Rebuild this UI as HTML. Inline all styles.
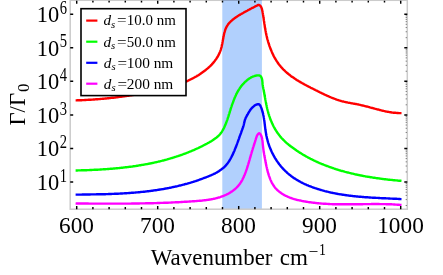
<!DOCTYPE html>
<html><head><meta charset="utf-8"><title>plot</title>
<style>
html,body{margin:0;padding:0;background:#fff;}
body{width:443px;height:275px;overflow:hidden;position:relative;font-family:"Liberation Serif",serif;}
</style></head><body>
<svg width="443" height="275" viewBox="0 0 443 275" style="position:absolute;left:0;top:0;will-change:transform">
<rect x="0" y="0" width="443" height="275" fill="#fff"/>
<rect x="222.3" y="0.3" width="39.6" height="208.9" fill="#b1d0fd"/>
<g fill="none" stroke-width="2.4" stroke-linecap="butt" stroke-linejoin="round">
<path d="M75.6,100.4 L76.5,100.4 L77.3,100.3 L78.2,100.3 L79.0,100.3 L79.9,100.3 L80.7,100.2 L81.6,100.2 L82.4,100.1 L83.3,100.1 L84.1,100.1 L85.0,100.0 L85.8,100.0 L86.7,99.9 L87.5,99.9 L88.4,99.8 L89.2,99.8 L90.1,99.7 L90.9,99.7 L91.8,99.6 L92.6,99.6 L93.4,99.5 L94.3,99.5 L95.1,99.4 L96.0,99.3 L96.8,99.3 L97.7,99.2 L98.5,99.1 L99.4,99.1 L100.2,99.0 L101.0,98.9 L101.9,98.9 L102.7,98.8 L103.6,98.7 L104.4,98.6 L105.3,98.5 L106.1,98.5 L106.9,98.4 L107.8,98.3 L108.6,98.2 L109.5,98.1 L110.3,98.0 L111.1,97.9 L112.0,97.8 L112.8,97.8 L113.7,97.7 L114.5,97.6 L115.3,97.5 L116.2,97.4 L117.0,97.3 L117.9,97.1 L118.7,97.0 L119.5,96.9 L120.4,96.8 L121.2,96.7 L122.0,96.6 L122.9,96.5 L123.7,96.4 L124.6,96.3 L125.4,96.1 L126.2,96.0 L127.1,95.9 L127.9,95.8 L128.7,95.7 L129.6,95.5 L130.4,95.4 L131.2,95.3 L132.1,95.1 L132.9,95.0 L133.8,94.9 L134.6,94.7 L135.4,94.6 L136.3,94.5 L137.1,94.3 L137.9,94.2 L138.8,94.0 L139.6,93.9 L140.4,93.7 L141.3,93.6 L142.1,93.4 L142.9,93.3 L143.8,93.1 L144.6,93.0 L145.4,92.8 L146.3,92.7 L147.1,92.5 L147.9,92.3 L148.8,92.2 L149.6,92.0 L150.4,91.8 L151.3,91.7 L152.1,91.5 L152.9,91.3 L153.8,91.2 L154.6,91.0 L155.4,90.8 L156.3,90.6 L157.1,90.5 L157.9,90.3 L158.8,90.1 L159.6,89.9 L160.4,89.7 L161.3,89.5 L162.1,89.3 L162.9,89.1 L163.7,88.9 L164.6,88.7 L165.4,88.5 L166.2,88.3 L167.0,88.0 L167.9,87.8 L168.7,87.6 L169.5,87.4 L170.3,87.1 L171.1,86.9 L172.0,86.7 L172.8,86.4 L173.6,86.2 L174.4,85.9 L175.2,85.6 L176.0,85.4 L176.8,85.1 L177.6,84.8 L178.4,84.6 L179.2,84.3 L180.0,84.0 L180.8,83.7 L181.6,83.4 L182.4,83.1 L183.2,82.8 L184.0,82.4 L184.7,82.1 L185.5,81.8 L186.3,81.5 L187.1,81.1 L187.8,80.8 L188.6,80.4 L189.4,80.0 L190.1,79.7 L190.9,79.3 L191.7,78.9 L192.4,78.5 L193.2,78.1 L193.9,77.7 L194.7,77.3 L195.4,76.9 L196.2,76.5 L196.9,76.1 L197.6,75.6 L198.4,75.2 L199.1,74.7 L199.8,74.3 L200.5,73.8 L201.2,73.3 L201.9,72.8 L202.6,72.3 L203.3,71.8 L204.0,71.3 L204.7,70.8 L205.4,70.3 L206.1,69.7 L206.7,69.2 L207.4,68.6 L208.0,68.1 L208.7,67.5 L209.3,66.9 L209.9,66.4 L210.5,65.8 L211.1,65.2 L211.7,64.6 L212.3,63.9 L212.8,63.3 L213.4,62.7 L213.9,62.0 L214.4,61.4 L214.9,60.7 L215.4,60.1 L215.9,59.4 L216.4,58.7 L216.8,58.0 L217.3,57.3 L217.7,56.6 L218.1,55.9 L218.5,55.1 L218.9,54.4 L219.2,53.7 L219.6,52.9 L219.9,52.1 L220.2,51.4 L220.5,50.6 L220.8,49.8 L221.0,49.0 L221.2,48.2 L221.5,47.4 L221.7,46.5 L221.8,45.7 L222.0,44.9 L222.2,44.0 L222.4,43.2 L222.5,42.3 L222.7,41.5 L222.8,40.6 L223.0,39.8 L223.1,38.9 L223.3,38.1 L223.4,37.2 L223.6,36.4 L223.8,35.5 L224.0,34.6 L224.1,33.8 L224.3,33.0 L224.6,32.1 L224.8,31.3 L225.1,30.5 L225.3,29.6 L225.6,28.9 L226.0,28.1 L226.3,27.3 L226.7,26.6 L227.1,25.9 L227.6,25.2 L228.0,24.5 L228.5,23.8 L229.1,23.2 L229.6,22.6 L230.2,22.0 L230.8,21.4 L231.4,20.8 L232.0,20.3 L232.6,19.7 L233.3,19.2 L234.0,18.7 L234.6,18.2 L235.3,17.7 L236.0,17.2 L236.8,16.7 L237.5,16.2 L238.2,15.8 L239.0,15.3 L239.7,14.9 L240.4,14.4 L241.2,14.0 L241.9,13.6 L242.7,13.2 L243.4,12.8 L244.2,12.3 L244.9,11.9 L245.7,11.5 L246.4,11.1 L247.2,10.7 L247.9,10.3 L248.6,9.9 L249.4,9.5 L250.1,9.1 L250.8,8.7 L251.6,8.3 L252.3,7.9 L253.1,7.6 L253.8,7.2 L254.6,6.8 L255.3,6.4 L256.1,6.0 L256.9,5.6 L257.6,5.2 L258.4,4.9 L259.1,5.0 L259.8,5.3 L260.3,5.8 L260.8,6.4 L261.2,7.1 L261.5,7.8 L261.8,8.6 L262.0,9.4 L262.2,10.3 L262.4,11.2 L262.6,12.1 L262.7,13.0 L262.9,13.8 L263.0,14.7 L263.2,15.6 L263.3,16.4 L263.4,17.3 L263.6,18.1 L263.7,19.0 L263.8,19.8 L263.9,20.7 L264.1,21.5 L264.2,22.3 L264.3,23.2 L264.4,24.0 L264.6,24.8 L264.7,25.6 L264.8,26.4 L264.9,27.3 L265.1,28.1 L265.2,28.9 L265.4,29.7 L265.5,30.5 L265.7,31.4 L265.8,32.2 L266.0,33.0 L266.1,33.8 L266.3,34.6 L266.5,35.5 L266.7,36.3 L266.9,37.1 L267.1,37.9 L267.3,38.8 L267.5,39.6 L267.8,40.4 L268.0,41.2 L268.2,42.1 L268.5,42.9 L268.7,43.7 L269.0,44.5 L269.3,45.3 L269.5,46.1 L269.8,46.9 L270.1,47.7 L270.4,48.5 L270.7,49.3 L271.1,50.1 L271.4,50.9 L271.7,51.7 L272.1,52.5 L272.4,53.3 L272.8,54.0 L273.1,54.8 L273.5,55.6 L273.9,56.3 L274.3,57.1 L274.7,57.8 L275.1,58.5 L275.6,59.3 L276.0,60.0 L276.4,60.7 L276.9,61.4 L277.4,62.1 L277.8,62.8 L278.3,63.5 L278.8,64.2 L279.3,64.8 L279.8,65.5 L280.4,66.1 L280.9,66.8 L281.5,67.4 L282.0,68.0 L282.6,68.7 L283.2,69.3 L283.8,69.8 L284.4,70.4 L285.0,71.0 L285.6,71.6 L286.2,72.1 L286.8,72.7 L287.5,73.2 L288.1,73.8 L288.8,74.3 L289.4,74.8 L290.1,75.3 L290.8,75.9 L291.5,76.4 L292.2,76.9 L292.9,77.3 L293.6,77.8 L294.3,78.3 L295.0,78.8 L295.7,79.2 L296.4,79.7 L297.1,80.2 L297.9,80.6 L298.6,81.1 L299.4,81.5 L300.1,81.9 L300.8,82.4 L301.6,82.8 L302.3,83.2 L303.1,83.6 L303.9,84.1 L304.6,84.5 L305.4,84.9 L306.1,85.3 L306.9,85.7 L307.7,86.1 L308.4,86.5 L309.2,86.9 L310.0,87.3 L310.7,87.7 L311.5,88.1 L312.3,88.4 L313.0,88.8 L313.8,89.2 L314.6,89.6 L315.3,90.0 L316.1,90.4 L316.9,90.7 L317.6,91.1 L318.4,91.5 L319.1,91.9 L319.9,92.3 L320.6,92.6 L321.4,93.0 L322.1,93.4 L322.9,93.7 L323.7,94.1 L324.4,94.5 L325.2,94.8 L325.9,95.2 L326.7,95.5 L327.4,95.9 L328.2,96.2 L328.9,96.5 L329.7,96.9 L330.5,97.2 L331.2,97.5 L332.0,97.8 L332.8,98.1 L333.5,98.4 L334.3,98.7 L335.1,99.0 L335.9,99.3 L336.7,99.6 L337.5,99.8 L338.3,100.1 L339.1,100.4 L339.9,100.6 L340.7,100.8 L341.5,101.1 L342.3,101.3 L343.1,101.5 L343.9,101.7 L344.8,101.9 L345.6,102.1 L346.4,102.3 L347.3,102.4 L348.1,102.6 L349.0,102.8 L349.8,102.9 L350.7,103.1 L351.6,103.3 L352.4,103.4 L353.3,103.6 L354.1,103.7 L355.0,103.9 L355.8,104.0 L356.7,104.2 L357.5,104.4 L358.4,104.5 L359.2,104.7 L360.1,104.9 L360.9,105.1 L361.7,105.3 L362.6,105.5 L363.4,105.7 L364.2,105.9 L365.0,106.1 L365.8,106.3 L366.7,106.5 L367.5,106.7 L368.3,106.9 L369.1,107.1 L369.9,107.4 L370.7,107.6 L371.5,107.8 L372.3,108.0 L373.1,108.2 L373.9,108.5 L374.7,108.7 L375.6,108.9 L376.4,109.1 L377.2,109.3 L378.0,109.5 L378.8,109.7 L379.6,110.0 L380.4,110.2 L381.2,110.4 L382.0,110.6 L382.8,110.7 L383.6,110.9 L384.5,111.1 L385.3,111.3 L386.1,111.5 L386.9,111.6 L387.8,111.8 L388.6,111.9 L389.4,112.1 L390.3,112.2 L391.1,112.3 L391.9,112.5 L392.8,112.6 L393.6,112.7 L394.5,112.8 L395.3,112.8 L396.2,112.9 L397.1,113.0 L398.0,113.0 L398.8,113.1 L399.7,113.1 L400.6,113.1 L401.5,113.1" stroke="#ff0000"/>
<path d="M75.6,170.5 L76.4,170.5 L77.3,170.5 L78.1,170.4 L79.0,170.4 L79.8,170.4 L80.7,170.4 L81.5,170.3 L82.4,170.3 L83.2,170.3 L84.1,170.3 L84.9,170.2 L85.8,170.2 L86.6,170.2 L87.4,170.1 L88.3,170.1 L89.1,170.1 L90.0,170.0 L90.8,170.0 L91.7,170.0 L92.5,169.9 L93.4,169.9 L94.2,169.8 L95.1,169.8 L95.9,169.8 L96.8,169.7 L97.6,169.7 L98.5,169.6 L99.3,169.6 L100.2,169.5 L101.0,169.5 L101.9,169.4 L102.7,169.4 L103.6,169.3 L104.4,169.3 L105.3,169.2 L106.1,169.1 L107.0,169.1 L107.8,169.0 L108.7,169.0 L109.5,168.9 L110.4,168.8 L111.2,168.8 L112.1,168.7 L112.9,168.6 L113.8,168.5 L114.6,168.5 L115.5,168.4 L116.3,168.3 L117.2,168.2 L118.0,168.1 L118.9,168.1 L119.7,168.0 L120.6,167.9 L121.4,167.8 L122.3,167.7 L123.1,167.6 L123.9,167.5 L124.8,167.4 L125.6,167.3 L126.5,167.2 L127.3,167.1 L128.2,167.0 L129.0,166.9 L129.9,166.8 L130.7,166.7 L131.6,166.6 L132.4,166.5 L133.2,166.3 L134.1,166.2 L134.9,166.1 L135.8,166.0 L136.6,165.8 L137.4,165.7 L138.3,165.6 L139.1,165.4 L140.0,165.3 L140.8,165.2 L141.6,165.0 L142.5,164.9 L143.3,164.7 L144.2,164.6 L145.0,164.4 L145.8,164.3 L146.7,164.1 L147.5,164.0 L148.3,163.8 L149.2,163.7 L150.0,163.5 L150.8,163.3 L151.7,163.2 L152.5,163.0 L153.3,162.8 L154.1,162.6 L155.0,162.4 L155.8,162.3 L156.6,162.1 L157.4,161.9 L158.3,161.7 L159.1,161.5 L159.9,161.3 L160.7,161.1 L161.6,160.9 L162.4,160.7 L163.2,160.5 L164.0,160.3 L164.8,160.0 L165.7,159.8 L166.5,159.6 L167.3,159.4 L168.1,159.1 L168.9,158.9 L169.7,158.7 L170.6,158.4 L171.4,158.2 L172.2,158.0 L173.0,157.7 L173.8,157.5 L174.6,157.2 L175.4,156.9 L176.2,156.7 L177.0,156.4 L177.8,156.2 L178.6,155.9 L179.4,155.6 L180.2,155.3 L181.0,155.0 L181.8,154.8 L182.6,154.5 L183.4,154.2 L184.2,153.9 L185.0,153.6 L185.8,153.3 L186.6,153.0 L187.4,152.7 L188.2,152.4 L189.0,152.0 L189.8,151.7 L190.5,151.4 L191.3,151.1 L192.1,150.7 L192.9,150.4 L193.7,150.1 L194.5,149.7 L195.2,149.4 L196.0,149.0 L196.8,148.7 L197.6,148.3 L198.3,148.0 L199.1,147.6 L199.9,147.2 L200.6,146.9 L201.4,146.5 L202.2,146.1 L202.9,145.7 L203.7,145.3 L204.5,144.9 L205.2,144.5 L206.0,144.1 L206.8,143.7 L207.5,143.3 L208.3,142.9 L209.0,142.5 L209.8,142.0 L210.5,141.6 L211.2,141.2 L212.0,140.7 L212.7,140.3 L213.4,139.8 L214.1,139.3 L214.8,138.8 L215.5,138.3 L216.2,137.8 L216.8,137.3 L217.4,136.7 L218.1,136.2 L218.7,135.6 L219.3,135.0 L219.8,134.4 L220.4,133.7 L220.9,133.0 L221.4,132.4 L221.9,131.7 L222.3,131.0 L222.7,130.2 L223.2,129.5 L223.6,128.7 L224.0,128.0 L224.3,127.2 L224.7,126.4 L225.0,125.6 L225.4,124.8 L225.7,124.0 L226.0,123.3 L226.3,122.5 L226.6,121.7 L226.9,120.9 L227.2,120.1 L227.5,119.3 L227.7,118.5 L228.0,117.7 L228.3,116.9 L228.5,116.1 L228.8,115.2 L229.0,114.4 L229.3,113.6 L229.5,112.8 L229.8,112.0 L230.0,111.2 L230.3,110.4 L230.5,109.6 L230.8,108.7 L231.0,107.9 L231.3,107.1 L231.6,106.3 L231.8,105.5 L232.1,104.7 L232.4,103.9 L232.7,103.1 L233.0,102.3 L233.3,101.5 L233.6,100.7 L233.9,99.9 L234.2,99.1 L234.5,98.3 L234.8,97.5 L235.2,96.7 L235.5,96.0 L235.9,95.2 L236.2,94.4 L236.6,93.7 L237.0,92.9 L237.4,92.2 L237.8,91.4 L238.2,90.7 L238.7,90.0 L239.1,89.3 L239.6,88.6 L240.0,87.9 L240.5,87.2 L241.0,86.5 L241.5,85.8 L242.1,85.2 L242.6,84.5 L243.2,83.9 L243.8,83.3 L244.4,82.6 L245.0,82.0 L245.6,81.4 L246.3,80.9 L246.9,80.3 L247.6,79.7 L248.3,79.2 L249.0,78.7 L249.7,78.2 L250.5,77.8 L251.2,77.4 L252.0,77.0 L252.8,76.7 L253.5,76.3 L254.3,76.1 L255.1,75.8 L255.9,75.7 L256.8,75.5 L257.6,75.4 L258.4,75.4 L259.2,75.5 L259.9,75.7 L260.5,76.1 L261.0,76.7 L261.4,77.4 L261.8,78.3 L262.0,79.1 L262.2,80.0 L262.3,80.9 L262.4,81.8 L262.5,82.7 L262.5,83.6 L262.6,84.5 L262.8,85.4 L262.9,86.2 L263.0,87.0 L263.2,87.9 L263.3,88.7 L263.5,89.5 L263.7,90.3 L263.8,91.1 L264.0,91.9 L264.1,92.8 L264.3,93.6 L264.4,94.4 L264.6,95.2 L264.7,96.1 L264.9,96.9 L265.0,97.7 L265.2,98.6 L265.3,99.4 L265.5,100.3 L265.7,101.1 L265.8,101.9 L266.0,102.8 L266.1,103.6 L266.3,104.5 L266.5,105.3 L266.7,106.1 L266.8,107.0 L267.0,107.8 L267.2,108.7 L267.4,109.5 L267.6,110.3 L267.9,111.1 L268.1,112.0 L268.3,112.8 L268.5,113.6 L268.8,114.4 L269.0,115.2 L269.3,116.1 L269.6,116.9 L269.9,117.7 L270.1,118.5 L270.4,119.3 L270.7,120.1 L271.1,120.8 L271.4,121.6 L271.7,122.4 L272.1,123.2 L272.4,123.9 L272.8,124.7 L273.1,125.5 L273.5,126.2 L273.9,127.0 L274.3,127.7 L274.7,128.4 L275.1,129.2 L275.6,129.9 L276.0,130.6 L276.5,131.3 L276.9,132.0 L277.4,132.7 L277.9,133.4 L278.4,134.1 L278.9,134.7 L279.4,135.4 L279.9,136.1 L280.4,136.7 L281.0,137.4 L281.5,138.0 L282.1,138.6 L282.7,139.2 L283.3,139.8 L283.9,140.4 L284.5,141.0 L285.1,141.6 L285.7,142.2 L286.4,142.8 L287.0,143.3 L287.7,143.9 L288.3,144.4 L289.0,145.0 L289.7,145.5 L290.3,146.0 L291.0,146.6 L291.7,147.1 L292.4,147.6 L293.1,148.1 L293.8,148.6 L294.5,149.1 L295.2,149.6 L295.9,150.1 L296.6,150.6 L297.3,151.0 L298.1,151.5 L298.8,152.0 L299.5,152.4 L300.2,152.9 L300.9,153.3 L301.7,153.8 L302.4,154.2 L303.1,154.7 L303.9,155.1 L304.6,155.5 L305.3,155.9 L306.1,156.4 L306.8,156.8 L307.6,157.2 L308.3,157.6 L309.1,158.0 L309.8,158.4 L310.6,158.8 L311.3,159.1 L312.1,159.5 L312.8,159.9 L313.6,160.3 L314.4,160.6 L315.1,161.0 L315.9,161.4 L316.7,161.7 L317.4,162.1 L318.2,162.4 L319.0,162.8 L319.7,163.1 L320.5,163.4 L321.3,163.8 L322.1,164.1 L322.9,164.4 L323.6,164.7 L324.4,165.0 L325.2,165.3 L326.0,165.6 L326.8,166.0 L327.6,166.2 L328.4,166.5 L329.2,166.8 L330.0,167.1 L330.8,167.4 L331.6,167.7 L332.4,168.0 L333.2,168.2 L334.0,168.5 L334.8,168.8 L335.6,169.0 L336.4,169.3 L337.2,169.5 L338.0,169.8 L338.8,170.0 L339.6,170.3 L340.4,170.5 L341.2,170.8 L342.1,171.0 L342.9,171.2 L343.7,171.4 L344.5,171.7 L345.3,171.9 L346.2,172.1 L347.0,172.3 L347.8,172.5 L348.6,172.7 L349.4,172.9 L350.3,173.1 L351.1,173.3 L351.9,173.5 L352.8,173.7 L353.6,173.9 L354.4,174.1 L355.2,174.3 L356.1,174.5 L356.9,174.7 L357.7,174.8 L358.6,175.0 L359.4,175.2 L360.2,175.3 L361.1,175.5 L361.9,175.7 L362.7,175.8 L363.6,176.0 L364.4,176.1 L365.3,176.3 L366.1,176.5 L366.9,176.6 L367.8,176.7 L368.6,176.9 L369.5,177.0 L370.3,177.2 L371.1,177.3 L372.0,177.4 L372.8,177.6 L373.7,177.7 L374.5,177.8 L375.4,177.9 L376.2,178.1 L377.0,178.2 L377.9,178.3 L378.7,178.4 L379.6,178.5 L380.4,178.6 L381.3,178.8 L382.1,178.9 L382.9,179.0 L383.8,179.1 L384.6,179.2 L385.5,179.3 L386.3,179.4 L387.2,179.5 L388.0,179.6 L388.9,179.7 L389.7,179.8 L390.5,179.9 L391.4,179.9 L392.2,180.0 L393.1,180.1 L393.9,180.2 L394.8,180.3 L395.6,180.4 L396.5,180.4 L397.3,180.5 L398.1,180.6 L399.0,180.7 L399.8,180.8 L400.7,180.8 L401.5,180.9" stroke="#00ff00"/>
<path d="M75.6,194.6 L76.4,194.6 L77.3,194.6 L78.1,194.6 L79.0,194.6 L79.8,194.6 L80.7,194.6 L81.5,194.6 L82.4,194.5 L83.2,194.5 L84.1,194.5 L84.9,194.5 L85.8,194.5 L86.6,194.5 L87.5,194.5 L88.3,194.5 L89.2,194.5 L90.0,194.5 L90.8,194.4 L91.7,194.4 L92.5,194.4 L93.4,194.4 L94.2,194.4 L95.1,194.4 L95.9,194.4 L96.8,194.3 L97.6,194.3 L98.5,194.3 L99.3,194.3 L100.2,194.3 L101.0,194.3 L101.9,194.2 L102.7,194.2 L103.6,194.2 L104.4,194.2 L105.3,194.2 L106.1,194.1 L107.0,194.1 L107.8,194.1 L108.7,194.0 L109.5,194.0 L110.4,194.0 L111.2,194.0 L112.1,193.9 L112.9,193.9 L113.8,193.9 L114.6,193.8 L115.5,193.8 L116.3,193.8 L117.2,193.7 L118.0,193.7 L118.9,193.6 L119.7,193.6 L120.6,193.5 L121.4,193.5 L122.2,193.5 L123.1,193.4 L123.9,193.4 L124.8,193.3 L125.6,193.3 L126.5,193.2 L127.3,193.1 L128.2,193.1 L129.0,193.0 L129.9,193.0 L130.7,192.9 L131.6,192.8 L132.4,192.8 L133.3,192.7 L134.1,192.6 L134.9,192.6 L135.8,192.5 L136.6,192.4 L137.5,192.4 L138.3,192.3 L139.2,192.2 L140.0,192.1 L140.8,192.0 L141.7,191.9 L142.5,191.9 L143.4,191.8 L144.2,191.7 L145.1,191.6 L145.9,191.5 L146.7,191.4 L147.6,191.3 L148.4,191.2 L149.3,191.1 L150.1,191.0 L150.9,190.9 L151.8,190.8 L152.6,190.7 L153.5,190.5 L154.3,190.4 L155.1,190.3 L156.0,190.2 L156.8,190.1 L157.6,189.9 L158.5,189.8 L159.3,189.7 L160.1,189.5 L161.0,189.4 L161.8,189.3 L162.6,189.1 L163.5,189.0 L164.3,188.8 L165.1,188.7 L166.0,188.5 L166.8,188.4 L167.6,188.2 L168.5,188.1 L169.3,187.9 L170.1,187.7 L171.0,187.6 L171.8,187.4 L172.6,187.2 L173.4,187.0 L174.3,186.9 L175.1,186.7 L175.9,186.5 L176.7,186.3 L177.6,186.1 L178.4,185.9 L179.2,185.7 L180.0,185.5 L180.9,185.3 L181.7,185.1 L182.5,184.9 L183.3,184.7 L184.1,184.5 L185.0,184.2 L185.8,184.0 L186.6,183.8 L187.4,183.6 L188.2,183.3 L189.0,183.1 L189.9,182.9 L190.7,182.6 L191.5,182.4 L192.3,182.1 L193.1,181.9 L193.9,181.6 L194.7,181.3 L195.6,181.1 L196.4,180.8 L197.2,180.5 L198.0,180.3 L198.8,180.0 L199.6,179.7 L200.4,179.4 L201.2,179.1 L202.0,178.8 L202.8,178.5 L203.6,178.2 L204.4,177.9 L205.2,177.6 L206.0,177.3 L206.8,177.0 L207.6,176.7 L208.4,176.4 L209.2,176.0 L210.0,175.7 L210.8,175.4 L211.6,175.0 L212.4,174.7 L213.2,174.3 L213.9,173.9 L214.7,173.6 L215.4,173.2 L216.2,172.8 L216.9,172.4 L217.7,171.9 L218.4,171.5 L219.1,171.1 L219.8,170.6 L220.5,170.1 L221.2,169.6 L221.8,169.1 L222.5,168.6 L223.1,168.1 L223.8,167.6 L224.4,167.0 L225.0,166.4 L225.5,165.8 L226.1,165.2 L226.6,164.6 L227.1,163.9 L227.7,163.2 L228.1,162.6 L228.6,161.9 L229.1,161.2 L229.5,160.4 L230.0,159.7 L230.4,159.0 L230.8,158.2 L231.2,157.5 L231.6,156.7 L232.0,155.9 L232.4,155.2 L232.8,154.4 L233.1,153.6 L233.5,152.8 L233.8,152.0 L234.2,151.2 L234.5,150.5 L234.8,149.7 L235.1,148.9 L235.4,148.1 L235.8,147.3 L236.1,146.5 L236.4,145.7 L236.7,144.9 L237.0,144.1 L237.2,143.3 L237.5,142.6 L237.8,141.8 L238.1,141.0 L238.4,140.2 L238.7,139.4 L239.0,138.6 L239.2,137.8 L239.5,137.0 L239.8,136.2 L240.1,135.4 L240.4,134.6 L240.7,133.8 L241.0,133.1 L241.2,132.3 L241.5,131.5 L241.8,130.7 L242.1,129.9 L242.4,129.0 L242.7,128.2 L243.0,127.4 L243.2,126.6 L243.5,125.8 L243.7,125.0 L243.9,124.1 L244.1,123.3 L244.3,122.4 L244.5,121.6 L244.7,120.8 L244.9,120.0 L245.2,119.2 L245.5,118.5 L245.8,117.7 L246.2,117.0 L246.6,116.3 L246.9,115.5 L247.4,114.8 L247.8,114.1 L248.2,113.3 L248.6,112.6 L249.1,111.8 L249.6,111.1 L250.0,110.3 L250.6,109.6 L251.1,108.9 L251.7,108.2 L252.3,107.6 L252.9,106.9 L253.6,106.4 L254.3,105.8 L255.0,105.3 L255.8,104.9 L256.6,104.5 L257.4,104.3 L258.2,104.2 L258.9,104.3 L259.4,104.6 L260.0,105.1 L260.4,105.8 L260.7,106.5 L261.1,107.3 L261.4,108.1 L261.7,108.9 L261.9,109.7 L262.2,110.6 L262.4,111.4 L262.6,112.2 L262.9,113.0 L263.1,113.8 L263.2,114.7 L263.4,115.5 L263.6,116.3 L263.7,117.2 L263.9,118.0 L264.0,118.8 L264.1,119.7 L264.3,120.5 L264.4,121.3 L264.5,122.2 L264.6,123.0 L264.7,123.9 L264.8,124.7 L264.9,125.6 L265.0,126.4 L265.1,127.2 L265.2,128.1 L265.3,128.9 L265.4,129.8 L265.6,130.6 L265.7,131.5 L265.8,132.3 L266.0,133.1 L266.1,134.0 L266.2,134.8 L266.4,135.7 L266.6,136.5 L266.8,137.3 L266.9,138.2 L267.2,139.0 L267.4,139.8 L267.6,140.6 L267.8,141.5 L268.1,142.3 L268.3,143.1 L268.6,143.9 L268.8,144.7 L269.1,145.5 L269.4,146.3 L269.7,147.1 L270.0,147.9 L270.4,148.7 L270.7,149.5 L271.0,150.3 L271.4,151.1 L271.7,151.8 L272.1,152.6 L272.5,153.4 L272.9,154.1 L273.3,154.9 L273.7,155.6 L274.1,156.4 L274.5,157.1 L274.9,157.9 L275.4,158.6 L275.8,159.3 L276.3,160.0 L276.7,160.7 L277.2,161.4 L277.7,162.1 L278.2,162.8 L278.7,163.5 L279.2,164.2 L279.7,164.8 L280.3,165.5 L280.8,166.2 L281.3,166.8 L281.9,167.4 L282.4,168.1 L283.0,168.7 L283.6,169.3 L284.2,169.9 L284.8,170.5 L285.4,171.1 L286.0,171.7 L286.6,172.2 L287.2,172.8 L287.8,173.3 L288.5,173.9 L289.1,174.4 L289.8,174.9 L290.4,175.4 L291.1,176.0 L291.8,176.5 L292.4,176.9 L293.1,177.4 L293.8,177.9 L294.5,178.4 L295.2,178.8 L295.9,179.3 L296.6,179.7 L297.3,180.1 L298.1,180.6 L298.8,181.0 L299.5,181.4 L300.3,181.8 L301.0,182.2 L301.8,182.6 L302.5,183.0 L303.3,183.3 L304.0,183.7 L304.8,184.1 L305.6,184.4 L306.4,184.8 L307.1,185.1 L307.9,185.4 L308.7,185.8 L309.5,186.1 L310.3,186.4 L311.1,186.7 L311.9,187.0 L312.7,187.3 L313.5,187.6 L314.3,187.9 L315.1,188.2 L315.9,188.4 L316.7,188.7 L317.5,189.0 L318.4,189.2 L319.2,189.5 L320.0,189.7 L320.8,190.0 L321.6,190.2 L322.5,190.4 L323.3,190.7 L324.1,190.9 L324.9,191.1 L325.8,191.3 L326.6,191.5 L327.4,191.7 L328.3,191.9 L329.1,192.1 L329.9,192.3 L330.7,192.5 L331.6,192.7 L332.4,192.8 L333.2,193.0 L334.1,193.2 L334.9,193.4 L335.7,193.5 L336.6,193.7 L337.4,193.8 L338.2,194.0 L339.1,194.1 L339.9,194.3 L340.7,194.4 L341.6,194.5 L342.4,194.7 L343.2,194.8 L344.1,194.9 L344.9,195.0 L345.7,195.2 L346.6,195.3 L347.4,195.4 L348.3,195.5 L349.1,195.6 L349.9,195.7 L350.8,195.8 L351.6,195.9 L352.5,196.0 L353.3,196.1 L354.1,196.2 L355.0,196.3 L355.8,196.4 L356.7,196.5 L357.5,196.5 L358.3,196.6 L359.2,196.7 L360.0,196.8 L360.9,196.8 L361.7,196.9 L362.5,197.0 L363.4,197.0 L364.2,197.1 L365.1,197.2 L365.9,197.2 L366.8,197.3 L367.6,197.3 L368.4,197.4 L369.3,197.5 L370.1,197.5 L371.0,197.6 L371.8,197.6 L372.7,197.7 L373.5,197.7 L374.4,197.8 L375.2,197.8 L376.0,197.9 L376.9,197.9 L377.7,197.9 L378.6,198.0 L379.4,198.0 L380.3,198.1 L381.1,198.1 L382.0,198.2 L382.8,198.2 L383.7,198.2 L384.5,198.3 L385.4,198.3 L386.2,198.4 L387.1,198.4 L387.9,198.4 L388.8,198.5 L389.6,198.5 L390.5,198.6 L391.3,198.6 L392.2,198.6 L393.0,198.7 L393.9,198.7 L394.7,198.8 L395.6,198.8 L396.4,198.8 L397.2,198.9 L398.1,198.9 L398.9,199.0 L399.8,199.0 L400.6,199.1 L401.5,199.1" stroke="#0000ff"/>
<path d="M75.6,203.4 L76.4,203.5 L77.3,203.5 L78.1,203.5 L78.9,203.5 L79.8,203.5 L80.6,203.5 L81.4,203.5 L82.3,203.5 L83.1,203.5 L83.9,203.5 L84.7,203.5 L85.6,203.5 L86.4,203.5 L87.2,203.5 L88.1,203.5 L88.9,203.6 L89.7,203.6 L90.6,203.6 L91.4,203.6 L92.2,203.6 L93.0,203.6 L93.9,203.6 L94.7,203.6 L95.5,203.6 L96.3,203.6 L97.2,203.6 L98.0,203.6 L98.8,203.6 L99.7,203.6 L100.5,203.6 L101.3,203.6 L102.1,203.6 L103.0,203.6 L103.8,203.6 L104.6,203.6 L105.4,203.6 L106.3,203.6 L107.1,203.6 L107.9,203.6 L108.7,203.6 L109.6,203.6 L110.4,203.6 L111.2,203.6 L112.0,203.6 L112.9,203.6 L113.7,203.6 L114.5,203.6 L115.3,203.6 L116.2,203.6 L117.0,203.6 L117.8,203.6 L118.6,203.6 L119.4,203.6 L120.3,203.6 L121.1,203.6 L121.9,203.6 L122.7,203.6 L123.6,203.6 L124.4,203.6 L125.2,203.6 L126.0,203.6 L126.9,203.6 L127.7,203.6 L128.5,203.6 L129.3,203.6 L130.1,203.6 L131.0,203.6 L131.8,203.5 L132.6,203.5 L133.4,203.5 L134.3,203.5 L135.1,203.5 L135.9,203.5 L136.7,203.5 L137.5,203.5 L138.4,203.5 L139.2,203.5 L140.0,203.4 L140.8,203.4 L141.6,203.4 L142.5,203.4 L143.3,203.4 L144.1,203.4 L144.9,203.4 L145.8,203.3 L146.6,203.3 L147.4,203.3 L148.2,203.3 L149.0,203.3 L149.9,203.2 L150.7,203.2 L151.5,203.2 L152.3,203.2 L153.2,203.2 L154.0,203.1 L154.8,203.1 L155.6,203.1 L156.4,203.1 L157.3,203.0 L158.1,203.0 L158.9,203.0 L159.7,203.0 L160.6,202.9 L161.4,202.9 L162.2,202.9 L163.0,202.9 L163.9,202.8 L164.7,202.8 L165.5,202.8 L166.3,202.7 L167.1,202.7 L168.0,202.7 L168.8,202.6 L169.6,202.6 L170.4,202.6 L171.3,202.5 L172.1,202.5 L172.9,202.4 L173.7,202.4 L174.6,202.4 L175.4,202.3 L176.2,202.3 L177.0,202.3 L177.9,202.2 L178.7,202.2 L179.5,202.1 L180.3,202.1 L181.2,202.0 L182.0,202.0 L182.8,201.9 L183.6,201.9 L184.5,201.8 L185.3,201.8 L186.1,201.7 L186.9,201.7 L187.8,201.6 L188.6,201.6 L189.4,201.5 L190.3,201.5 L191.1,201.4 L191.9,201.4 L192.7,201.3 L193.6,201.3 L194.4,201.2 L195.2,201.1 L196.1,201.1 L196.9,201.0 L197.7,200.9 L198.5,200.9 L199.4,200.8 L200.2,200.7 L201.0,200.7 L201.8,200.6 L202.7,200.5 L203.5,200.4 L204.3,200.3 L205.1,200.2 L206.0,200.1 L206.8,200.0 L207.6,199.9 L208.4,199.8 L209.2,199.7 L210.1,199.5 L210.9,199.4 L211.7,199.2 L212.5,199.1 L213.3,198.9 L214.1,198.7 L214.9,198.6 L215.7,198.4 L216.5,198.2 L217.3,198.0 L218.1,197.7 L218.9,197.5 L219.7,197.3 L220.5,197.0 L221.2,196.7 L222.0,196.5 L222.8,196.2 L223.6,195.9 L224.3,195.5 L225.1,195.2 L225.8,194.9 L226.6,194.5 L227.3,194.1 L228.1,193.8 L228.8,193.4 L229.5,193.0 L230.2,192.5 L230.9,192.1 L231.6,191.6 L232.3,191.2 L232.9,190.7 L233.6,190.2 L234.2,189.7 L234.9,189.2 L235.5,188.6 L236.1,188.1 L236.7,187.5 L237.3,186.9 L237.8,186.3 L238.4,185.7 L238.9,185.1 L239.4,184.4 L239.9,183.8 L240.3,183.1 L240.8,182.4 L241.2,181.7 L241.7,181.0 L242.1,180.3 L242.5,179.5 L242.8,178.8 L243.2,178.0 L243.6,177.3 L243.9,176.5 L244.2,175.7 L244.6,175.0 L244.9,174.2 L245.2,173.4 L245.5,172.6 L245.8,171.9 L246.0,171.1 L246.3,170.3 L246.6,169.5 L246.9,168.7 L247.1,168.0 L247.4,167.2 L247.6,166.4 L247.8,165.6 L248.1,164.8 L248.3,164.0 L248.6,163.3 L248.8,162.5 L249.0,161.7 L249.2,160.9 L249.5,160.1 L249.7,159.3 L249.9,158.5 L250.1,157.8 L250.4,157.0 L250.6,156.2 L250.8,155.4 L251.0,154.6 L251.3,153.8 L251.5,153.0 L251.8,152.2 L252.0,151.4 L252.2,150.6 L252.5,149.8 L252.7,149.0 L253.0,148.2 L253.2,147.4 L253.5,146.6 L253.7,145.8 L254.0,145.0 L254.2,144.2 L254.5,143.5 L254.7,142.7 L255.0,141.9 L255.2,141.1 L255.4,140.4 L255.7,139.6 L255.9,138.8 L256.1,138.1 L256.4,137.3 L256.7,136.5 L257.0,135.7 L257.5,134.9 L258.0,134.1 L258.6,133.5 L259.3,133.2 L259.9,133.5 L260.4,134.2 L260.8,134.8 L261.1,135.5 L261.4,136.3 L261.7,137.0 L261.9,137.8 L262.1,138.6 L262.2,139.5 L262.4,140.3 L262.5,141.1 L262.6,142.0 L262.7,142.8 L262.7,143.7 L262.8,144.5 L262.9,145.4 L263.0,146.2 L263.1,147.0 L263.2,147.9 L263.3,148.7 L263.4,149.5 L263.5,150.3 L263.6,151.1 L263.7,151.9 L263.9,152.7 L264.0,153.4 L264.1,154.2 L264.3,155.0 L264.4,155.8 L264.6,156.6 L264.7,157.4 L264.9,158.2 L265.0,159.0 L265.2,159.8 L265.3,160.6 L265.5,161.5 L265.6,162.3 L265.8,163.1 L266.0,164.0 L266.1,164.8 L266.3,165.6 L266.5,166.5 L266.7,167.3 L266.9,168.2 L267.1,169.0 L267.3,169.9 L267.5,170.7 L267.7,171.5 L267.9,172.4 L268.2,173.2 L268.4,174.0 L268.7,174.8 L268.9,175.6 L269.2,176.4 L269.5,177.2 L269.8,178.0 L270.1,178.8 L270.4,179.6 L270.7,180.3 L271.1,181.1 L271.4,181.8 L271.8,182.6 L272.2,183.3 L272.6,184.0 L273.0,184.7 L273.4,185.3 L273.9,186.0 L274.3,186.6 L274.8,187.3 L275.3,187.9 L275.8,188.5 L276.3,189.0 L276.9,189.6 L277.4,190.1 L278.0,190.7 L278.6,191.2 L279.2,191.7 L279.8,192.1 L280.4,192.6 L281.1,193.1 L281.7,193.5 L282.4,193.9 L283.0,194.3 L283.7,194.7 L284.4,195.1 L285.1,195.5 L285.8,195.8 L286.6,196.2 L287.3,196.5 L288.1,196.9 L288.8,197.2 L289.6,197.5 L290.3,197.8 L291.1,198.0 L291.9,198.3 L292.7,198.6 L293.5,198.8 L294.3,199.1 L295.1,199.3 L295.9,199.5 L296.7,199.8 L297.5,200.0 L298.4,200.2 L299.2,200.4 L300.0,200.5 L300.9,200.7 L301.7,200.9 L302.5,201.1 L303.4,201.2 L304.2,201.4 L305.1,201.5 L305.9,201.7 L306.8,201.8 L307.6,201.9 L308.4,202.1 L309.3,202.2 L310.1,202.3 L311.0,202.4 L311.8,202.5 L312.6,202.6 L313.5,202.7 L314.3,202.8 L315.1,202.9 L316.0,203.0 L316.8,203.1 L317.6,203.2 L318.5,203.3 L319.3,203.4 L320.1,203.4 L320.9,203.5 L321.8,203.6 L322.6,203.6 L323.4,203.7 L324.2,203.7 L325.1,203.8 L325.9,203.8 L326.7,203.9 L327.5,203.9 L328.4,204.0 L329.2,204.0 L330.0,204.1 L330.8,204.1 L331.6,204.1 L332.5,204.2 L333.3,204.2 L334.1,204.2 L334.9,204.2 L335.7,204.2 L336.5,204.3 L337.4,204.3 L338.2,204.3 L339.0,204.3 L339.8,204.3 L340.6,204.3 L341.4,204.3 L342.2,204.3 L343.1,204.3 L343.9,204.3 L344.7,204.3 L345.5,204.3 L346.3,204.3 L347.1,204.3 L347.9,204.3 L348.7,204.3 L349.6,204.3 L350.4,204.3 L351.2,204.3 L352.0,204.3 L352.8,204.3 L353.6,204.3 L354.4,204.3 L355.2,204.3 L356.1,204.3 L356.9,204.2 L357.7,204.2 L358.5,204.2 L359.3,204.2 L360.1,204.2 L360.9,204.2 L361.7,204.2 L362.6,204.2 L363.4,204.1 L364.2,204.1 L365.0,204.1 L365.8,204.1 L366.6,204.1 L367.5,204.1 L368.3,204.1 L369.1,204.1 L369.9,204.1 L370.7,204.1 L371.5,204.0 L372.4,204.0 L373.2,204.0 L374.0,204.0 L374.8,204.0 L375.6,204.0 L376.5,204.0 L377.3,204.0 L378.1,204.0 L378.9,204.0 L379.8,204.1 L380.6,204.1 L381.4,204.1 L382.2,204.1 L383.1,204.1 L383.9,204.1 L384.7,204.1 L385.5,204.1 L386.4,204.2 L387.2,204.2 L388.0,204.2 L388.9,204.2 L389.7,204.3 L390.5,204.3 L391.4,204.3 L392.2,204.4 L393.1,204.4 L393.9,204.5 L394.7,204.5 L395.6,204.6 L396.4,204.6 L397.3,204.7 L398.1,204.7 L399.0,204.8 L399.8,204.9 L400.7,204.9 L401.5,205.0" stroke="#ff00ff"/>
</g>
<rect x="70.2" y="0.3" width="337.1" height="208.9" fill="none" stroke="#cbcbcb" stroke-width="1.5"/>
<path d="M222.3,0.3H261.9" stroke="#8ea4c8" stroke-width="1.5" fill="none"/>
<path d="M76.70,209.2v-3.3 M76.70,0.7V3.70 M92.90,209.2v-2.2 M92.90,0.7V2.60 M109.10,209.2v-2.2 M109.10,0.7V2.60 M125.30,209.2v-2.2 M125.30,0.7V2.60 M141.50,209.2v-2.2 M141.50,0.7V2.60 M157.70,209.2v-3.3 M157.70,0.7V3.70 M173.90,209.2v-2.2 M173.90,0.7V2.60 M190.10,209.2v-2.2 M190.10,0.7V2.60 M206.30,209.2v-2.2 M206.30,0.7V2.60 M222.50,209.2v-2.2 M222.50,0.7V2.60 M238.70,209.2v-3.3 M238.70,0.7V3.70 M254.90,209.2v-2.2 M254.90,0.7V2.60 M271.10,209.2v-2.2 M271.10,0.7V2.60 M287.30,209.2v-2.2 M287.30,0.7V2.60 M303.50,209.2v-2.2 M303.50,0.7V2.60 M319.70,209.2v-3.3 M319.70,0.7V3.70 M335.90,209.2v-2.2 M335.90,0.7V2.60 M352.10,209.2v-2.2 M352.10,0.7V2.60 M368.30,209.2v-2.2 M368.30,0.7V2.60 M384.50,209.2v-2.2 M384.50,0.7V2.60 M400.70,209.2v-3.3 M400.70,0.7V3.70 M70.2,182.05h3 M407.3,182.05h-3 M70.2,148.48h3 M407.3,148.48h-3 M70.2,114.91h3 M407.3,114.91h-3 M70.2,81.34h3 M407.3,81.34h-3 M70.2,47.77h3 M407.3,47.77h-3 M70.2,14.20h3 M407.3,14.20h-3" stroke="#000" stroke-width="1.45" fill="none"/>
<path d="M406.8,205.51h-1.1 M406.8,199.60h-1.1 M406.8,195.41h-1.1 M406.8,192.16h-1.1 M406.8,189.50h-1.1 M406.8,187.25h-1.1 M406.8,185.30h-1.1 M406.8,183.59h-1.1 M406.8,171.94h-1.1 M406.8,166.03h-1.1 M406.8,161.84h-1.1 M406.8,158.59h-1.1 M406.8,155.93h-1.1 M406.8,153.68h-1.1 M406.8,151.73h-1.1 M406.8,150.02h-1.1 M406.8,138.37h-1.1 M406.8,132.46h-1.1 M406.8,128.27h-1.1 M406.8,125.02h-1.1 M406.8,122.36h-1.1 M406.8,120.11h-1.1 M406.8,118.16h-1.1 M406.8,116.45h-1.1 M406.8,104.80h-1.1 M406.8,98.89h-1.1 M406.8,94.70h-1.1 M406.8,91.45h-1.1 M406.8,88.79h-1.1 M406.8,86.54h-1.1 M406.8,84.59h-1.1 M406.8,82.88h-1.1 M406.8,71.23h-1.1 M406.8,65.32h-1.1 M406.8,61.13h-1.1 M406.8,57.88h-1.1 M406.8,55.22h-1.1 M406.8,52.97h-1.1 M406.8,51.02h-1.1 M406.8,49.31h-1.1 M406.8,37.66h-1.1 M406.8,31.75h-1.1 M406.8,27.56h-1.1 M406.8,24.31h-1.1 M406.8,21.65h-1.1 M406.8,19.40h-1.1 M406.8,17.45h-1.1 M406.8,15.74h-1.1" stroke="#000" stroke-width="0.8" fill="none" opacity="0.7"/>
<rect x="81" y="8.7" width="105.0" height="86.9" fill="#fff" stroke="#000" stroke-width="1.6"/>
<path d="M86.2,20.6H97.4" stroke="#ff0000" stroke-width="2.2"/>
<text transform="translate(103.40,25.40) scale(1.12,1)" text-anchor="start" font-family="Liberation Serif" font-size="13.6"><tspan font-style="italic">d</tspan><tspan font-style="italic" font-size="9.6" dy="2.4">s</tspan></text>
<text transform="translate(117.00,25.40) scale(1.25,1)" text-anchor="start" font-family="Liberation Serif" font-size="13.6">=</text>
<text transform="translate(126.80,25.40) scale(1.1,1)" text-anchor="start" font-family="Liberation Serif" font-size="13.6">10.0 nm</text>
<path d="M86.2,41.7H97.4" stroke="#00ff00" stroke-width="2.2"/>
<text transform="translate(103.40,46.50) scale(1.12,1)" text-anchor="start" font-family="Liberation Serif" font-size="13.6"><tspan font-style="italic">d</tspan><tspan font-style="italic" font-size="9.6" dy="2.4">s</tspan></text>
<text transform="translate(117.00,46.50) scale(1.25,1)" text-anchor="start" font-family="Liberation Serif" font-size="13.6">=</text>
<text transform="translate(126.80,46.50) scale(1.1,1)" text-anchor="start" font-family="Liberation Serif" font-size="13.6">50.0 nm</text>
<path d="M86.2,62.8H97.4" stroke="#0000ff" stroke-width="2.2"/>
<text transform="translate(103.80,67.60) scale(1.12,1)" text-anchor="start" font-family="Liberation Serif" font-size="13.6"><tspan font-style="italic">d</tspan><tspan font-style="italic" font-size="9.6" dy="2.4">s</tspan></text>
<text transform="translate(117.40,67.60) scale(1.25,1)" text-anchor="start" font-family="Liberation Serif" font-size="13.6">=</text>
<text transform="translate(126.80,67.60) scale(1.13,1)" text-anchor="start" font-family="Liberation Serif" font-size="13.6">100 nm</text>
<path d="M86.2,83.7H97.4" stroke="#ff00ff" stroke-width="2.2"/>
<text transform="translate(103.80,88.50) scale(1.12,1)" text-anchor="start" font-family="Liberation Serif" font-size="13.6"><tspan font-style="italic">d</tspan><tspan font-style="italic" font-size="9.6" dy="2.4">s</tspan></text>
<text transform="translate(117.40,88.50) scale(1.25,1)" text-anchor="start" font-family="Liberation Serif" font-size="13.6">=</text>
<text transform="translate(126.80,88.50) scale(1.13,1)" text-anchor="start" font-family="Liberation Serif" font-size="13.6">200 nm</text>
<text transform="translate(36.80,190.05) scale(0.947,1)" text-anchor="start" font-family="Liberation Serif" font-size="23.7">10</text>
<text transform="translate(59.70,181.75) scale(0.82,1)" text-anchor="start" font-family="Liberation Serif" font-size="17.8">1</text>
<text transform="translate(36.80,156.48) scale(0.947,1)" text-anchor="start" font-family="Liberation Serif" font-size="23.7">10</text>
<text transform="translate(59.70,148.18) scale(0.82,1)" text-anchor="start" font-family="Liberation Serif" font-size="17.8">2</text>
<text transform="translate(36.80,122.91) scale(0.947,1)" text-anchor="start" font-family="Liberation Serif" font-size="23.7">10</text>
<text transform="translate(59.70,114.61) scale(0.82,1)" text-anchor="start" font-family="Liberation Serif" font-size="17.8">3</text>
<text transform="translate(36.80,89.34) scale(0.947,1)" text-anchor="start" font-family="Liberation Serif" font-size="23.7">10</text>
<text transform="translate(59.70,81.04) scale(0.82,1)" text-anchor="start" font-family="Liberation Serif" font-size="17.8">4</text>
<text transform="translate(36.80,55.77) scale(0.947,1)" text-anchor="start" font-family="Liberation Serif" font-size="23.7">10</text>
<text transform="translate(59.70,47.47) scale(0.82,1)" text-anchor="start" font-family="Liberation Serif" font-size="17.8">5</text>
<text transform="translate(36.80,22.20) scale(0.947,1)" text-anchor="start" font-family="Liberation Serif" font-size="23.7">10</text>
<text transform="translate(59.70,13.90) scale(0.82,1)" text-anchor="start" font-family="Liberation Serif" font-size="17.8">6</text>
<text transform="translate(76.50,232.80) scale(0.972,1)" text-anchor="middle" font-family="Liberation Serif" font-size="24.0">600</text>
<text transform="translate(157.50,232.80) scale(0.972,1)" text-anchor="middle" font-family="Liberation Serif" font-size="24.0">700</text>
<text transform="translate(238.50,232.80) scale(0.972,1)" text-anchor="middle" font-family="Liberation Serif" font-size="24.0">800</text>
<text transform="translate(319.50,232.80) scale(0.972,1)" text-anchor="middle" font-family="Liberation Serif" font-size="24.0">900</text>
<text transform="translate(400.50,232.80) scale(0.972,1)" text-anchor="middle" font-family="Liberation Serif" font-size="24.0">1000</text>
<text transform="translate(150.80,265.10) scale(1.006,1)" text-anchor="start" font-family="Liberation Serif" font-size="22.8">Wavenumber</text>
<text transform="translate(279.70,265.10) scale(1.012,1)" text-anchor="start" font-family="Liberation Serif" font-size="22.8">cm</text>
<text transform="translate(308.50,257.40) scale(1.05,1)" text-anchor="start" font-family="Liberation Serif" font-size="16.5">−</text>
<text transform="translate(318.90,255.30) scale(0.85,1)" text-anchor="start" font-family="Liberation Serif" font-size="16.2">1</text>
<text transform="translate(25.00,125.60) rotate(-90)" text-anchor="start" font-family="Liberation Serif" font-size="22.8">Γ/Γ</text>
<text transform="translate(29.30,92.00) rotate(-90) scale(0.98,1)" text-anchor="start" font-family="Liberation Serif" font-size="17.2">0</text>
</svg>
</body></html>
